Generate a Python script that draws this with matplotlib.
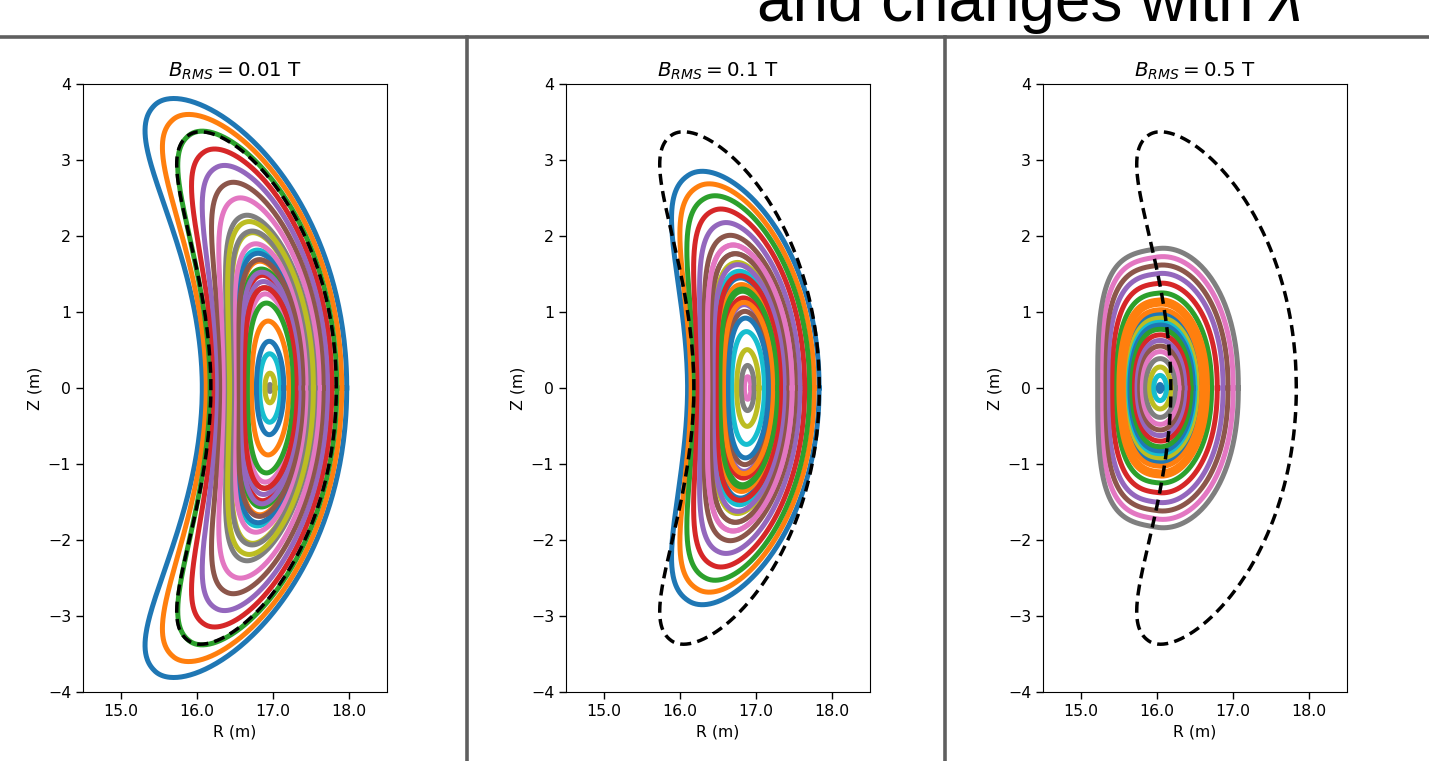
import numpy as np
import matplotlib.pyplot as plt
from matplotlib.lines import Line2D

W, H = 1429, 761

titles = ["$B_{RMS} = 0.01$ T", "$B_{RMS} = 0.1$ T", "$B_{RMS} = 0.5$ T"]
xticks = [15.0, 16.0, 17.0, 18.0]
yticks = [-4, -3, -2, -1, 0, 1, 2, 3, 4]

# outermost traced surface of each panel (m)
axis_r = [16.96, 16.89, 16.04]      # magnetic axis
edge_rc = [17.02, 16.965, 16.145]   # centre of the outer surface at Z=0
edge_a = [0.95, 0.865, 0.925]       # half width at Z=0
edge_b = [4.15, 2.97, 1.84]         # half length along the bent centre line
edge_rbend = [5.15, 5.0, 11.0]      # bending radius of the centre line
edge_ql = [0.9, 0.9, 0.6]           # squareness of the inboard side
edge_qt = [0.8, 0.85, 0.85]         # bluntness of the tips
height_pow = [1.15, 1.0, 1.0]       # how fast the height shrinks inwards

# relative size of each traced surface, in plotting order
rho_p1 = [1.00, 0.938, 0.877, 0.815, 0.76, 0.705, 0.655, 0.60, 0.545, 0.49,
          0.48, 0.455, 0.43, 0.41, 0.39, 0.37, 0.35,
          0.02, 0.07, 0.145, 0.19, 0.26, 0.32, 0.37, 0.42, 0.46, 0.51, 0.55, 0.58]
rho_p2 = [1.00, 0.935, 0.875, 0.81, 0.745, 0.685, 0.64, 0.60, 0.56, 0.52,
          0.49, 0.46, 0.43, 0.40, 0.37, 0.34, 0.05,
          0.10, 0.17, 0.25, 0.31, 0.38, 0.44, 0.50, 0.55, 0.60, 0.64]
rho_p3 = [0.53, 0.60, 0.68, 0.75, 0.82, 0.88, 0.94, 1.00, 0.50, 0.47,
          0.45, 0.56, 0.42, 0.38, 0.34, 0.30, 0.26, 0.21, 0.15, 0.09, 0.025,
          0.63]
rho_all = [rho_p1, rho_p2, rho_p3]

# last closed flux surface (dashed)
lcfs_rc, lcfs_a, lcfs_b, lcfs_rbend, lcfs_ql, lcfs_qt = 17.008, 0.825, 3.57, 5.45, 0.91, 0.83


def surface(rc, a, b, rbend, ql, qt):
    th = np.linspace(0, 2 * np.pi, 500)
    c, s = np.cos(th), np.sin(th)
    n = np.where(c < 0, -a * np.abs(c) ** ql, a * c)
    t = b * np.sign(s) * np.abs(s) ** qt
    phi = t / rbend
    r = rbend + n
    return rc - rbend + r * np.cos(phi), r * np.sin(phi)


fig = plt.figure(figsize=(W / 100, H / 100), dpi=100)

boxes = [(83, 84), (566, 84), (1043, 84)]
for k, (left, top) in enumerate(boxes):
    ax = fig.add_axes([left / W, 1 - (top + 608) / H, 304 / W, 608 / H])
    for rho in rho_all[k]:
        rc = axis_r[k] + (edge_rc[k] - axis_r[k]) * rho ** 2
        a = edge_a[k] * rho
        b = edge_b[k] * rho ** height_pow[k]
        rb = edge_rbend[k] / max(rho, 0.05) ** 0.6
        ql = 1 - (1 - edge_ql[k]) * rho
        qt = 1 - (1 - edge_qt[k]) * rho
        R, Z = surface(rc, a, b, rb, ql, qt)
        ax.plot(R, Z, lw=3.6)
    R, Z = surface(lcfs_rc, lcfs_a, lcfs_b, lcfs_rbend, lcfs_ql, lcfs_qt)
    ax.plot(R, Z, 'k--', lw=2.5, dashes=(3.2, 1.8))
    ax.set_xlim(14.5, 18.5)
    ax.set_ylim(-4, 4)
    ax.set_xticks(xticks)
    ax.set_xticklabels([f"{v:.1f}" for v in xticks])
    ax.set_yticks(yticks)
    ax.tick_params(labelsize=11.3, length=5, width=1)
    ax.set_xlabel("R (m)", fontsize=11.3)
    ax.set_ylabel("Z (m)", fontsize=11.3)
    ax.set_title(titles[k], fontsize=14.3, pad=5)

# slide decoration
gray = '#5f5f5f'
fig.add_artist(Line2D([0, 1], [1 - 37 / H, 1 - 37 / H], color=gray, lw=2.6))
for x in [467, 945]:
    fig.add_artist(Line2D([x / W, x / W], [0, 1 - 37 / H], color=gray, lw=2.6))

t1 = fig.text(757 / W, 1 - 21 / H, "and changes with ", fontsize=46,
              family='Liberation Sans', va='baseline')
fig.canvas.draw()
bb = t1.get_window_extent()
fig.text(bb.x1 / W, 1 - 21 / H, "λ", fontsize=46, family='Liberation Sans',
         style='italic', va='baseline')

fig.savefig('out.png', dpi=100)
